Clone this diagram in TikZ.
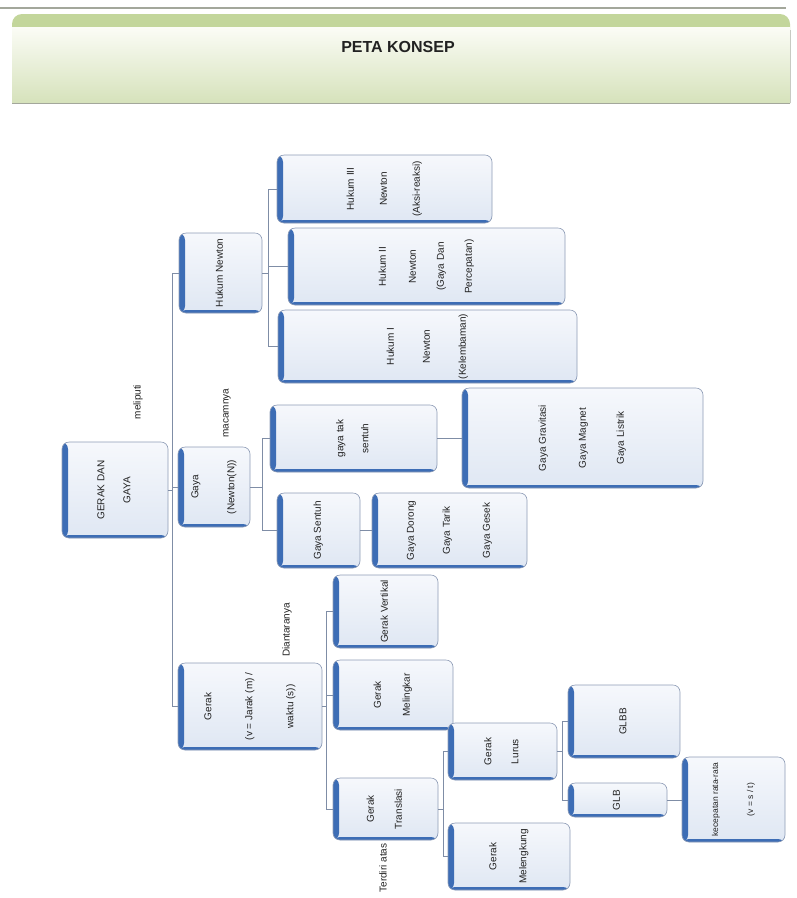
\documentclass[tikz,border=0pt]{standalone}
\usepackage{fontspec}
\setmainfont{Liberation Sans}
\usepackage{graphicx}
\definecolor{boxline}{HTML}{8E9CB6}
\definecolor{boxtop}{HTML}{F6F8FC}
\definecolor{boxbot}{HTML}{DFE7F3}
\definecolor{boxblue}{HTML}{3D6DB5}
\definecolor{conncol}{HTML}{7F8DA6}
\definecolor{txtcol}{HTML}{222222}
\definecolor{bandgreen}{HTML}{C3D69B}
\definecolor{headtop}{HTML}{FBFCF6}
\definecolor{headbot}{HTML}{D6E2BB}
\definecolor{headline}{HTML}{A3A79B}
\tikzset{
  cbox/.style={rectangle, rounded corners=7pt, draw=boxline, line width=0.6pt,
    top color=boxtop, bottom color=boxbot, inner sep=0pt, text=txtcol,
    font=\fontsize{10}{12}\selectfont,
    path picture={
      \fill[boxblue] (path picture bounding box.south west) rectangle ([xshift=6pt]path picture bounding box.north west);
      \fill[boxblue] (path picture bounding box.south west) rectangle ([yshift=3pt]path picture bounding box.south east);
    }},
  conn/.style={draw=conncol, line width=0.8pt},
  lab/.style={rotate=90, inner sep=0pt, text=txtcol, font=\fontsize{10}{12}\selectfont}
}
\newcommand\mybox[7][]{%
  \pgfmathsetmacro\mbx{(#3+#5)/2}\pgfmathsetmacro\mby{(#4+#6)/2}%
  \pgfmathsetmacro\mbw{#5-#3}\pgfmathsetmacro\mbh{#6-#4}%
  \node[cbox, minimum width=\mbw pt, minimum height=\mbh pt, #1] (#2) at (\mbx,\mby)
    {\rotatebox{90}{\begin{tabular}{@{}c@{}}#7\end{tabular}}};}
\begin{document}
\begin{tikzpicture}[x=1pt,y=-1pt]
\useasboundingbox (0,0) rectangle (797,898);
\fill[white] (0,0) rectangle (797,898);
% header
\draw[headline, line width=1.2pt] (0,8) -- (786,8);
\fill[bandgreen, rounded corners=10pt] (12,14) rectangle (790,45);
\shade[top color=headtop, bottom color=headbot] (12,27) rectangle (790,103);
\draw[headline, line width=1pt] (12,103) -- (790,103);
\draw[headline!60, line width=0.6pt] (790,30) -- (790,103);
\node[font=\fontsize{16}{19}\selectfont\bfseries, text=txtcol] (title) at (398,47) {PETA KONSEP};
% boxes
\mybox{root}{62}{442}{168}{538}{GERAK DAN\\[14pt]GAYA}
\mybox{hn}{179}{233}{262}{313}{Hukum Newton}
\mybox{h3}{277}{155}{492}{223}{Hukum III\\[21pt]Newton\\[21pt](Aksi-reaksi)}
\mybox{h2}{288}{228}{565}{305}{Hukum II\\[18pt]Newton\\[16pt](Gaya Dan\\[16pt]Percepatan)}
\mybox{h1}{278}{310}{577}{383}{Hukum I\\[24pt]Newton\\[24pt](Kelembaman)}
\mybox{gaya}{178}{447}{250}{527}{Gaya\\[24pt](Newton(N))}
\mybox{tak}{270}{405}{437}{472}{gaya tak\\[13pt]sentuh}
\mybox{grav}{462}{388}{703}{488}{Gaya Gravitasi\\[28pt]Gaya Magnet\\[26pt]Gaya Listrik}
\mybox{sentuh}{277}{493}{360}{568}{Gaya Sentuh}
\mybox{dorong}{372}{493}{527}{568}{Gaya Dorong\\[24pt]Gaya Tarik\\[28pt]Gaya Gesek}
\mybox{gerak}{178}{663}{322}{750}{Gerak\\[29pt](v = Jarak (m) /\\[29pt]waktu (s))}
\mybox{vert}{333}{575}{438}{648}{Gerak Vertikal}
\mybox{meling}{333}{660}{453}{730}{Gerak\\[17pt]Melingkar}
\mybox{trans}{333}{778}{438}{840}{Gerak\\[16pt]Translasi}
\mybox{lurus}{448}{723}{557}{780}{Gerak\\[15pt]Lurus}
\mybox{lengk}{448}{823}{570}{890}{Gerak\\[18pt]Melengkung}
\mybox{glbb}{568}{685}{680}{758}{GLBB}
\mybox{glb}{568}{783}{667}{817}{GLB}
\mybox[font=\fontsize{8.5}{11}\selectfont]{kec}{682}{757}{785}{842}{kecepatan rata-rata\\[24pt](v = s / t)}
% branch coordinates
\coordinate (tx) at (172,0);
\coordinate (hx) at (268,0);
\coordinate (gx) at (262,0);
\coordinate (kx) at (326,0);
\coordinate (lx) at (443,0);
\coordinate (mx) at (562,0);
% trunk
\draw[conn] (hn.west -| tx) -- (gerak.west -| tx);
\draw[conn] (root.east) -- (root.east -| tx);
\draw[conn] (hn.west -| tx) -- (hn.west);
\draw[conn] (gaya.west -| tx) -- (gaya.west);
\draw[conn] (gerak.west -| tx) -- (gerak.west);
% Hukum Newton
\draw[conn] (hn.east) -- (hn.east -| hx);
\draw[conn] (h3.west -| hx) -- (h1.west -| hx);
\draw[conn] (h3.west -| hx) -- (h3.west);
\draw[conn] (h2.west -| hx) -- (h2.west);
\draw[conn] (h1.west -| hx) -- (h1.west);
% Gaya
\draw[conn] (gaya.east) -- (gaya.east -| gx);
\draw[conn] (tak.west -| gx) -- (sentuh.west -| gx);
\draw[conn] (tak.west -| gx) -- (tak.west);
\draw[conn] (sentuh.west -| gx) -- (sentuh.west);
\draw[conn] (tak.east) -- (tak.east -| grav.west);
\draw[conn] (sentuh.east) -- (sentuh.east -| dorong.west);
% Gerak
\draw[conn] (gerak.east) -- (gerak.east -| kx);
\draw[conn] (vert.west -| kx) -- (trans.west -| kx);
\draw[conn] (vert.west -| kx) -- (vert.west);
\draw[conn] (meling.west -| kx) -- (meling.west);
\draw[conn] (trans.west -| kx) -- (trans.west);
\draw[conn] (trans.east) -- (trans.east -| lx);
\draw[conn] (lurus.west -| lx) -- (lengk.west -| lx);
\draw[conn] (lurus.west -| lx) -- (lurus.west);
\draw[conn] (lengk.west -| lx) -- (lengk.west);
\draw[conn] (lurus.east) -- (lurus.east -| mx);
\draw[conn] (glbb.west -| mx) -- (glb.west -| mx);
\draw[conn] (glbb.west -| mx) -- (glbb.west);
\draw[conn] (glb.west -| mx) -- (glb.west);
\draw[conn] (glb.east) -- (glb.east -| kec.west);
% labels
\node[lab] (l1) at (138,402) {meliputi};
\node[lab] (l2) at (227,413) {macamnya};
\node[lab] (l3) at (287,630) {Diantaranya};
\node[lab] (l4) at (383,868) {Terdiri atas};
\end{tikzpicture}
\end{document}
